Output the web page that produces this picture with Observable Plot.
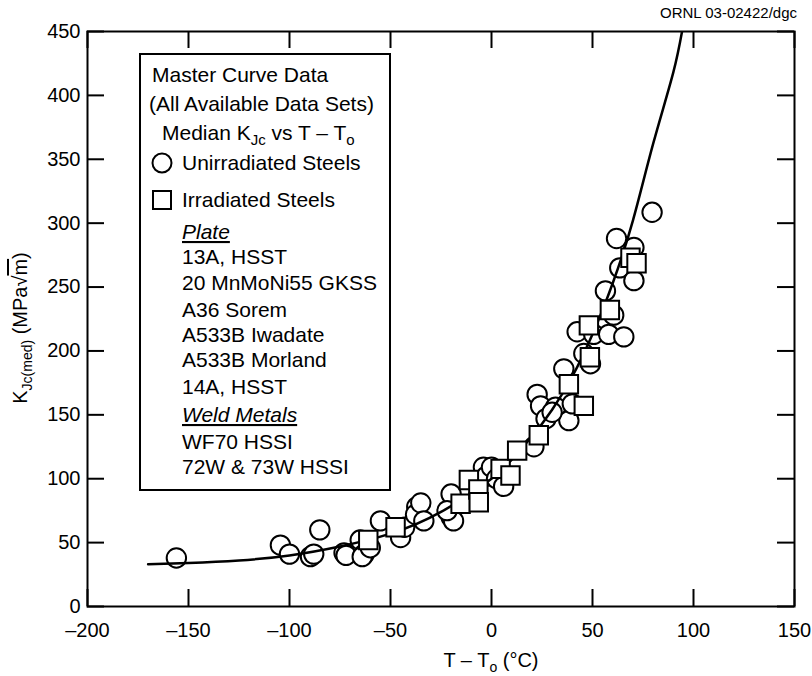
<!DOCTYPE html>
<html>
<head>
<meta charset="utf-8">
<script src="https://cdn.jsdelivr.net/npm/d3@7"></script>
<script src="https://cdn.jsdelivr.net/npm/@observablehq/plot@0.6"></script>
<style>
  html, body { margin: 0; padding: 0; background: white; }
  #chart { position: relative; width: 812px; height: 676px; }
</style>
</head>
<body>
<div id="chart"></div>
<script>
// ---- data ----
const xTicks = [-200, -150, -100, -50, 0, 50, 100, 150];
const yTicks = [0, 50, 100, 150, 200, 250, 300, 350, 400, 450];

// master curve
const curveX = [-170, -150, -125, -100, -75, -50, -25, 0, 10, 20, 30, 40, 50, 60, 70, 80, 90, 95];
const curveY = [33, 34, 36, 40, 47, 57, 74, 100, 115, 133, 154, 180, 213, 253, 302, 362, 418, 456];

// unirradiated steels (circles)
const unirrX = [-156, -104.5, -100, -89.6, -88, -85, -73, -72, -65, -63, -64, -60, -55, -45, -43, -37, -37.6, -35, -33.5,
  -20, -20, -18.8, -22, -4, -2.5, 0, 2.5, 6, 21, 22.6, 24.3, 31.7, 38.3, 40, 35.8, 45.7, 49, 42.4, 50.6, 58, 65.5,
  60.5, 56.4, 63.5, 61.9, 70.5, 70.5, 79.5, 27, 30];
const unirrY = [38, 48, 41, 39, 41, 60, 42, 40, 52, 41, 39, 46, 67, 54, 62, 78, 72, 81, 67,
  88, 70, 67, 75, 109, 102, 109, 100, 94, 125, 166, 157, 156, 145.5, 158.6, 186, 198, 190, 215, 213, 213, 211,
  228, 247, 265, 288, 281, 255, 308.5, 147, 152];

// irradiated steels (squares)
const irrX = [-61, -47.5, -15.3, -11.2, -6.5, -6.3, 4.5, 9.4, 12.7, 23.4, 38.3, 45.7, 48.7, 48.2, 58.6, 68.8, 71.8];
const irrY = [52, 62, 80.4, 99, 91.5, 81.6, 107.7, 102.5, 122, 134, 174, 157, 195, 220, 232, 273, 268.6];

const legendHeader = ["Master Curve Data", "(All Available Data Sets)"];
const legendSeries = ["Unirradiated Steels", "Irradiated Steels"];
const plateItems = ["13A, HSST", "20 MnMoNi55 GKSS", "A36 Sorem", "A533B Iwadate", "A533B Morland", "14A, HSST"];
const weldItems = ["WF70 HSSI", "72W & 73W HSSI"];

// ---- build tables ----
const curve = curveX.map((x, i) => ({x, y: curveY[i]}));
const unirr = unirrX.map((x, i) => ({x, y: unirrY[i]}));
const irr = irrX.map((x, i) => ({x, y: irrY[i]}));

const FONT = "'Liberation Sans', Arial, Helvetica, sans-serif";
const W = 812, H = 676, ML = 87, MR = 18, MT = 31, MB = 70;
const PW = W - ML - MR, PH = H - MT - MB, TK = 17;
const fmt = d => d < 0 ? "\u2013" + Math.abs(d) : String(d);

const svg = Plot.plot({
  width: W, height: H,
  marginLeft: ML, marginRight: MR, marginTop: MT, marginBottom: MB,
  style: {fontFamily: FONT, fontSize: "20px", color: "black", background: "white"},
  x: {domain: [-200, 150]},
  y: {domain: [0, 450]},
  marks: [
    Plot.axisX(xTicks, {tickSize: 0, tickPadding: 16, tickFormat: fmt, label: null, fontSize: 20}),
    Plot.axisY(yTicks, {tickSize: 0, tickPadding: 7, label: null, fontSize: 20}),
    Plot.tickX(xTicks, {x: d => d, insetTop: PH - TK, stroke: "black", strokeWidth: 2}),
    Plot.tickX(xTicks, {x: d => d, insetBottom: PH - TK, stroke: "black", strokeWidth: 2}),
    Plot.tickY(yTicks, {y: d => d, insetRight: PW - TK, stroke: "black", strokeWidth: 2}),
    Plot.tickY(yTicks, {y: d => d, insetLeft: PW - TK, stroke: "black", strokeWidth: 2}),
    Plot.dot(unirr, {x: "x", y: "y", r: 9.7, fill: "white", stroke: "black", strokeWidth: 2}),
    Plot.line(curve, {x: "x", y: "y", curve: "natural", stroke: "black", strokeWidth: 2.5, clip: true}),
    Plot.dot(irr, {x: "x", y: "y", symbol: "square", r: 10.4, fill: "white", stroke: "black", strokeWidth: 2}),
    Plot.frame({stroke: "black", strokeWidth: 2})
  ]
});

const s = d3.select(svg);

// top-right id
s.append("text").attr("x", 797).attr("y", 18).attr("text-anchor", "end")
  .attr("font-family", FONT).attr("font-size", 15).text("ORNL 03-02422/dgc");

// x label
const xl = s.append("text").attr("x", 491).attr("y", 667).attr("text-anchor", "middle")
  .attr("font-family", FONT).attr("font-size", 20);
xl.append("tspan").text("T \u2013 T");
xl.append("tspan").attr("font-size", 14).attr("dy", 5).text("o");
xl.append("tspan").attr("dy", -5).text(" (\u00b0C)");

// y label
const yl = s.append("text").attr("transform", "translate(27,328) rotate(-90)").attr("text-anchor", "middle")
  .attr("font-family", FONT).attr("font-size", 20);
yl.append("tspan").text("K");
yl.append("tspan").attr("font-size", 14).attr("dy", 5).text("Jc(med)");
yl.append("tspan").attr("dy", -5).text(" (MPa\u221a");
yl.append("tspan").attr("text-decoration", "overline").text("m");
yl.append("tspan").text(")");

// legend box
const g = s.append("g").attr("font-family", FONT).attr("font-size", 21).attr("text-anchor", "start");
g.append("rect").attr("x", 140).attr("y", 54).attr("width", 250).attr("height", 436)
  .attr("fill", "white").attr("stroke", "black").attr("stroke-width", 2);
g.append("text").attr("x", 152).attr("y", 82).text(legendHeader[0]);
g.append("text").attr("x", 149).attr("y", 111).text(legendHeader[1]);
const med = g.append("text").attr("x", 162).attr("y", 140);
med.append("tspan").text("Median K");
med.append("tspan").attr("font-size", 15).attr("dy", 5).text("Jc");
med.append("tspan").attr("dy", -5).text(" vs T \u2013 T");
med.append("tspan").attr("font-size", 15).attr("dy", 5).text("o");

g.append("circle").attr("cx", 162).attr("cy", 163).attr("r", 9.5)
  .attr("fill", "white").attr("stroke", "black").attr("stroke-width", 2);
g.append("text").attr("x", 182).attr("y", 170).text(legendSeries[0]);
g.append("rect").attr("x", 153).attr("y", 191).attr("width", 18).attr("height", 18)
  .attr("fill", "white").attr("stroke", "black").attr("stroke-width", 2);
g.append("text").attr("x", 182).attr("y", 207).text(legendSeries[1]);

g.append("text").attr("x", 182).attr("y", 239).attr("font-style", "italic")
  .attr("text-decoration", "underline").text("Plate");
const plateY = [264, 290, 317, 342, 367, 394];
plateItems.forEach((t, i) => g.append("text").attr("x", 182).attr("y", plateY[i]).text(t));
g.append("text").attr("x", 182).attr("y", 422).attr("font-style", "italic")
  .attr("text-decoration", "underline").text("Weld Metals");
const weldY = [449, 474];
weldItems.forEach((t, i) => g.append("text").attr("x", 182).attr("y", weldY[i]).text(t));

document.getElementById("chart").appendChild(svg);
</script>
</body>
</html>
